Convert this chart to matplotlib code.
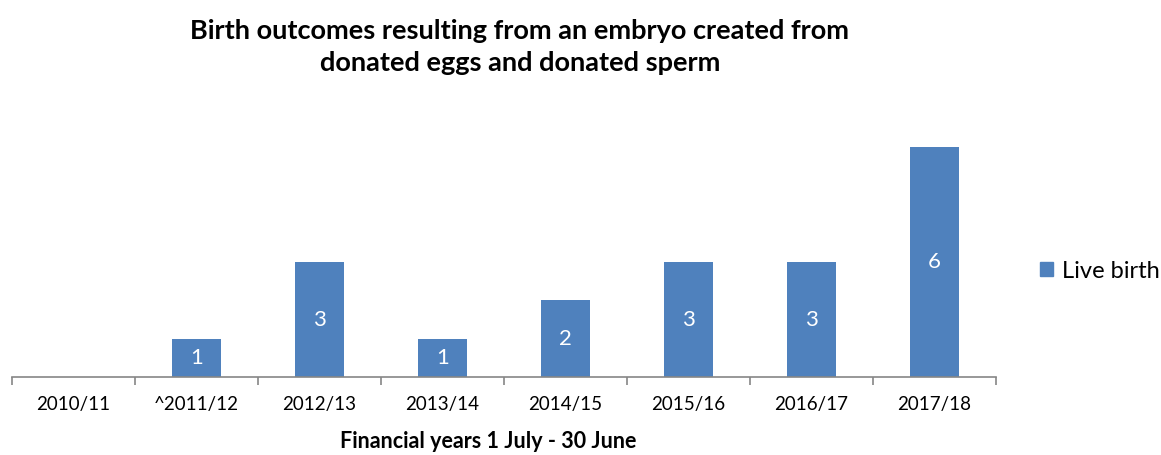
import matplotlib
matplotlib.use("Agg")
import matplotlib.pyplot as plt
from matplotlib.patches import Patch

categories = ["2010/11", "^2011/12", "2012/13", "2013/14", "2014/15", "2015/16", "2016/17", "2017/18"]
live_birth = [0, 1, 3, 1, 2, 3, 3, 6]

plt.rcParams['font.family'] = ['Lato', 'DejaVu Sans']

fig = plt.figure(figsize=(11.61, 4.55), dpi=100)
ax = fig.add_axes([12/1161, 1 - 377/455, (996 - 12)/1161, (377 - 109)/455])

color = "#4F81BD"
x = list(range(len(categories)))
bars = ax.bar(x, live_birth, width=0.4, color=color)
for xi, v in zip(x, live_birth):
    if v > 0:
        ax.text(xi, v / 2, str(v), ha='center', va='center', color='white', fontsize=16)

ax.set_xlim(-0.5, len(categories) - 0.5)
ax.set_ylim(0, 7)
ax.set_yticks([])
for s in ['top', 'right', 'left']:
    ax.spines[s].set_visible(False)
ax.spines['bottom'].set_color('#868686')
ax.spines['bottom'].set_linewidth(1.2)

ax.set_xticks([i - 0.5 for i in range(len(categories) + 1)], minor=False)
ax.set_xticklabels([])
ax.tick_params(axis='x', which='major', length=6, color='#868686', width=1.2, direction='out')
ax.set_xticks(x, minor=True)
ax.set_xticklabels(categories, minor=True, fontsize=13.5)
ax.tick_params(axis='x', which='minor', length=0, pad=14)

ax.set_xlabel("Financial years 1 July - 30 June", fontsize=15.5, fontweight='bold', va='center')
ax.xaxis.set_label_coords((488 - 12) / 984, (377 - 441) / 268)

fig.text(520/1161, 1 - 47/455, "Birth outcomes resulting from an embryo created from\ndonated eggs and donated sperm",
         ha='center', va='center', fontsize=19.5, fontweight='bold', linespacing=1.42)

leg = fig.legend(handles=[Patch(color=color, label="Live birth")], loc='center left',
                 bbox_to_anchor=(1040/1161, 1 - 271/455), frameon=False, fontsize=17,
                 handlelength=0.55, handleheight=0.55, handletextpad=0.4,
                 borderpad=0, borderaxespad=0)

fig.savefig("out.png", dpi=100)
